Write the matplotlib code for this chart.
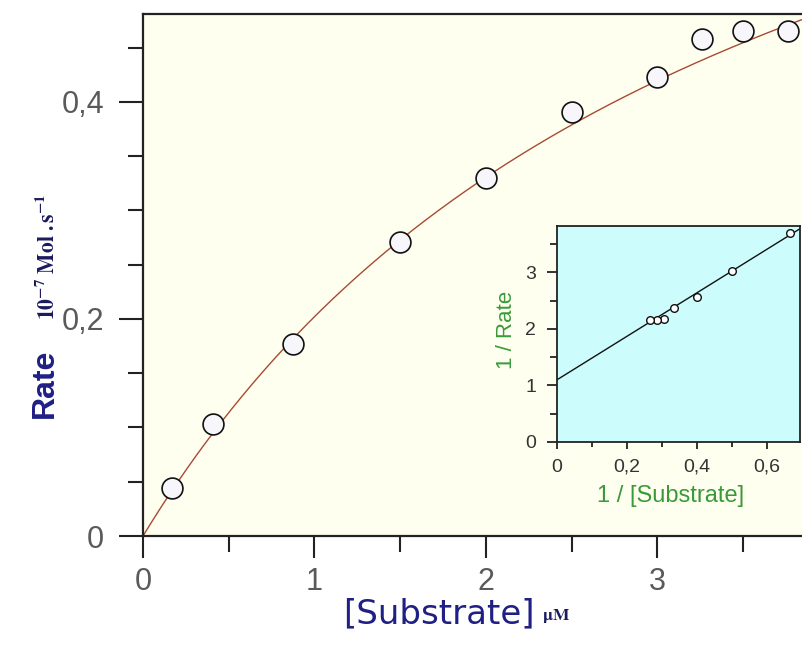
import numpy as np
import matplotlib
matplotlib.use('Agg')
from matplotlib import pyplot as plt

plt.rcParams['font.family'] = ['Liberation Sans', 'DejaVu Sans']
plt.rcParams['mathtext.fontset'] = 'stix'

# measured points, [Substrate] in uM and rate in 10^-7 Mol/s
substrate = [0.17, 0.41, 0.875, 1.5, 2.0, 2.5, 3.0, 3.26, 3.5, 3.76]
rate = [0.044, 0.103, 0.177, 0.271, 0.330, 0.391, 0.423, 0.458, 0.465, 0.465]

# Lineweaver-Burk line
lb_intercept = 1.1
lb_slope = 3.85

xticks = [0, 1, 2, 3]
xticklabels = ['0', '1', '2', '3']
yticks = [0, 0.2, 0.4]
yticklabels = ['0', '0,2', '0,4']

inset_xticks = [0, 0.2, 0.4, 0.6]
inset_xticklabels = ['0', '0,2', '0,4', '0,6']
inset_yticks = [0, 1, 2, 3]
inset_yticklabels = ['0', '1', '2', '3']

W, H = 803, 654


def fx(px):
    return px / W


def fy(py):
    return 1 - py / H


fig = plt.figure(figsize=(W / 100, H / 100), dpi=100)
fig.patch.set_facecolor('white')

# main plot
ax = fig.add_axes([fx(143), fy(536), 660 / W, 522 / H])
ax.set_facecolor('#fffff0')
ax.set_xlim(0, 3.85)
ax.set_ylim(0, 0.481)

vmax = 1 / lb_intercept
km = lb_slope * vmax
s = np.linspace(0, 3.85, 300)
ax.plot(s, vmax * s / (km + s), color='#a84a32', lw=1.0, zorder=2)
ax.plot(substrate, rate, 'o', ms=15, mfc='#f6f6fb', mec='#111111', mew=1.2,
        ls='none', zorder=3)

ax.spines['right'].set_visible(False)
for side in ['left', 'bottom', 'top']:
    ax.spines[side].set_linewidth(1.6)
    ax.spines[side].set_color('#222222')

ax.set_xticks(xticks)
ax.set_xticklabels(xticklabels)
ax.set_xticks([0.5, 1.5, 2.5, 3.5], minor=True)
ax.set_yticks(yticks)
ax.set_yticklabels(yticklabels)
ax.set_yticks([0.05, 0.1, 0.15, 0.25, 0.3, 0.35, 0.45], minor=True)

ax.tick_params(axis='x', which='major', direction='out', length=16, width=1.5,
               pad=6, labelsize=22, labelcolor='#5a5a5a', color='#222222')
ax.tick_params(axis='x', which='minor', direction='out', length=11.5, width=1.5,
               color='#222222')
ax.tick_params(axis='y', which='major', direction='out', length=17, width=1.5,
               pad=11, labelsize=22, labelcolor='#5a5a5a', color='#222222')
ax.tick_params(axis='y', which='minor', direction='out', length=11, width=1.5,
               color='#222222')

# axis titles
fig.text(fx(45), fy(383), 'Rate', rotation=90, ha='center', va='center',
         fontsize=23, fontweight='bold', color='#1f1f85')
fig.text(fx(47), fy(257), r'$\mathbf{10^{-7}\ Mol\ .s^{-1}}$', rotation=90,
         ha='center', va='center', fontsize=15.5, color='#1a1a5e')
fig.text(fx(343), fy(623), '[Substrate]', ha='left', va='baseline',
         fontsize=24.5, family='DejaVu Sans', color='#1f1f85')
fig.text(fx(542), fy(620), r'$\mathbf{\mu M}$', ha='left', va='baseline',
         fontsize=12.5, color='#1a1a5e')

# inset: double reciprocal plot
axi = fig.add_axes([fx(557), fy(442), 243 / W, 216 / H])
axi.set_facecolor('#ccfcfc')
axi.set_xlim(0, 0.694)
axi.set_ylim(0, 3.82)

inv_s = [1 / v for v in substrate[3:]]
inv_r = [1 / v for v in rate[3:]]
lx = np.array([0, 0.694])
axi.plot(lx, lb_intercept + lb_slope * lx, color='#111111', lw=1.0, zorder=2)
axi.plot(inv_s, inv_r, 'o', ms=5.5, mfc='white', mec='#111111', mew=1.0,
         ls='none', zorder=3)

for side in axi.spines.values():
    side.set_linewidth(1.3)
    side.set_color('#222222')

axi.set_xticks(inset_xticks)
axi.set_xticklabels(inset_xticklabels)
axi.set_xticks([0.1, 0.3, 0.5], minor=True)
axi.set_yticks(inset_yticks)
axi.set_yticklabels(inset_yticklabels)
axi.set_yticks([0.5, 1.5, 2.5, 3.5], minor=True)

axi.tick_params(axis='x', which='major', direction='out', length=5, width=1.3,
                pad=7, labelsize=14, labelcolor='#333333', color='#222222')
axi.tick_params(axis='x', which='minor', direction='out', length=3.6, width=1.3,
                color='#222222')
axi.tick_params(axis='y', which='major', direction='out', length=7, width=1.3,
                pad=8, labelsize=14, labelcolor='#333333', color='#222222')
axi.tick_params(axis='y', which='minor', direction='out', length=5, width=1.3,
                color='#222222')

fig.text(fx(507), fy(330), '1 / Rate', rotation=90, ha='center', va='center',
         fontsize=16, color='#3a9a3a')
fig.text(fx(671), fy(502), '1 / [Substrate]', ha='center', va='baseline',
         fontsize=17, color='#3a9a3a')

fig.savefig('out.png', dpi=100)
